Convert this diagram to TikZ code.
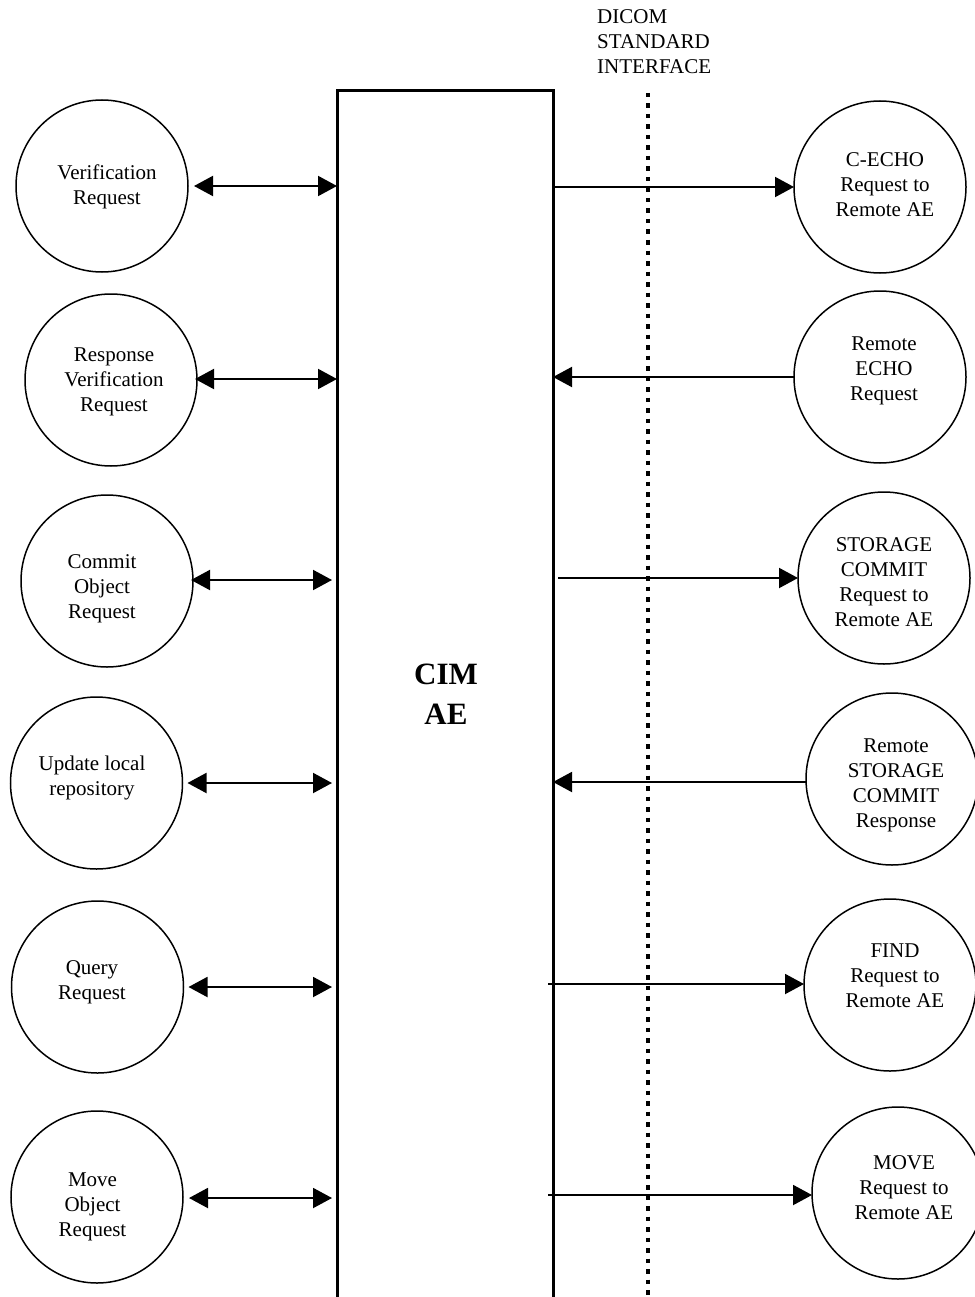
\documentclass[tikz,border=0pt]{standalone}
\usepackage{fontspec}
\setmainfont{Liberation Serif}
\usetikzlibrary{arrows.meta}
\begin{document}
\begin{tikzpicture}[x=1pt,y=-1pt,
  circ/.style={circle,draw,line width=1.5pt,minimum size=172pt,inner sep=0pt,outer sep=0pt},
  txt/.style={align=center,font=\fontsize{21}{25}\selectfont,inner sep=0pt},
  conn/.style={line width=2pt,-{Triangle[length=19pt,width=20pt]}},
  dconn/.style={line width=2pt,{Triangle[length=19pt,width=20pt]}-{Triangle[length=19pt,width=20pt]}},
]
\useasboundingbox (0,0) rectangle (974,1297);
% central block (open at the bottom: it runs past the page edge)
\node[draw,line width=3pt,minimum width=216pt,minimum height=1250pt,inner sep=0pt,outer sep=0pt,anchor=north west] (cim) at (337,91) {};
\node[align=center,font=\bfseries\fontsize{31}{40}\selectfont,inner sep=0pt] (cimlbl) at (446,694) {CIM\\AE};
% DICOM interface
\node[align=left,font=\fontsize{21}{25}\selectfont,inner sep=0pt,anchor=west] (dicom) at (597,42) {DICOM\\STANDARD\\INTERFACE};
\coordinate (dtop) at (648,93);
\coordinate (dbot) at (648,1300);
\draw[line width=4.5pt,dash pattern=on 4.5pt off 6pt] (dtop) -- (dbot);
% left circles
\node[circ] (l1) at (102,186) {};
\node[txt] (l1t) at (107,187) {Verification\\Request};
\node[circ] (l2) at (111,380) {};
\node[txt] (l2t) at (114,382) {Response\\Verification\\Request};
\node[circ] (l3) at (107,581) {};
\node[txt] (l3t) at (102,589) {Commit\\Object\\Request};
\node[circ] (l4) at (96.5,783) {};
\node[txt] (l4t) at (92,778) {Update local\\repository};
\node[circ] (l5) at (97.5,987) {};
\node[txt] (l5t) at (92,982) {Query\\Request};
\node[circ] (l6) at (97,1197) {};
\node[txt] (l6t) at (92.5,1207) {Move\\Object\\Request};
% right circles
\node[circ] (r1) at (880,187) {};
\node[txt] (r1t) at (885,185) {C-ECHO\\Request to\\Remote AE};
\node[circ] (r2) at (880,377) {};
\node[txt] (r2t) at (884,371) {Remote\\ECHO\\Request};
\node[circ] (r3) at (884,578) {};
\node[txt] (r3t) at (884,582) {STORAGE\\COMMIT\\Request to\\Remote AE};
\node[circ] (r4) at (892,779) {};
\node[txt] (r4t) at (896,785) {Remote\\STORAGE\\COMMIT\\Response};
\node[circ] (r5) at (890,985) {};
\node[txt] (r5t) at (895,976) {FIND\\Request to\\Remote AE};
\node[circ] (r6) at (898,1193) {};
\node[txt] (r6t) at (904,1188) {MOVE\\Request to\\Remote AE};
% left connectors
\draw[dconn] ([xshift=6pt]l1.east) -- (l1.east -| cim.west);
\draw[dconn] ([xshift=-2pt,yshift=1pt]l2.east) -- ([yshift=1pt]l2.east -| cim.west);
\draw[dconn] ([xshift=-2pt,yshift=1pt]l3.east) -- ([xshift=-5pt,yshift=1pt]l3.east -| cim.west);
\draw[dconn] ([xshift=5pt]l4.east) -- ([xshift=-5pt]l4.east -| cim.west);
\draw[dconn] ([xshift=5pt]l5.east) -- ([xshift=-5pt]l5.east -| cim.west);
\draw[dconn] ([xshift=6pt,yshift=-1pt]l6.east) -- ([xshift=-5pt,yshift=-1pt]l6.east -| cim.west);
% right connectors
\draw[conn] (r1.west -| cim.east) -- (r1.west);
\draw[conn] (r2.west) -- (r2.west -| cim.east);
\draw[conn] ([xshift=5pt]r3.west -| cim.east) -- (r3.west);
\draw[conn] ([yshift=-3pt]r4.west) -- ([yshift=-3pt]r4.west -| cim.east);
\draw[conn] ([xshift=-5pt,yshift=1pt]r5.west -| cim.east) -- ([yshift=1pt]r5.west);
\draw[conn] ([xshift=-5pt,yshift=-2pt]r6.west -| cim.east) -- ([yshift=-2pt]r6.west);
\end{tikzpicture}
\end{document}
